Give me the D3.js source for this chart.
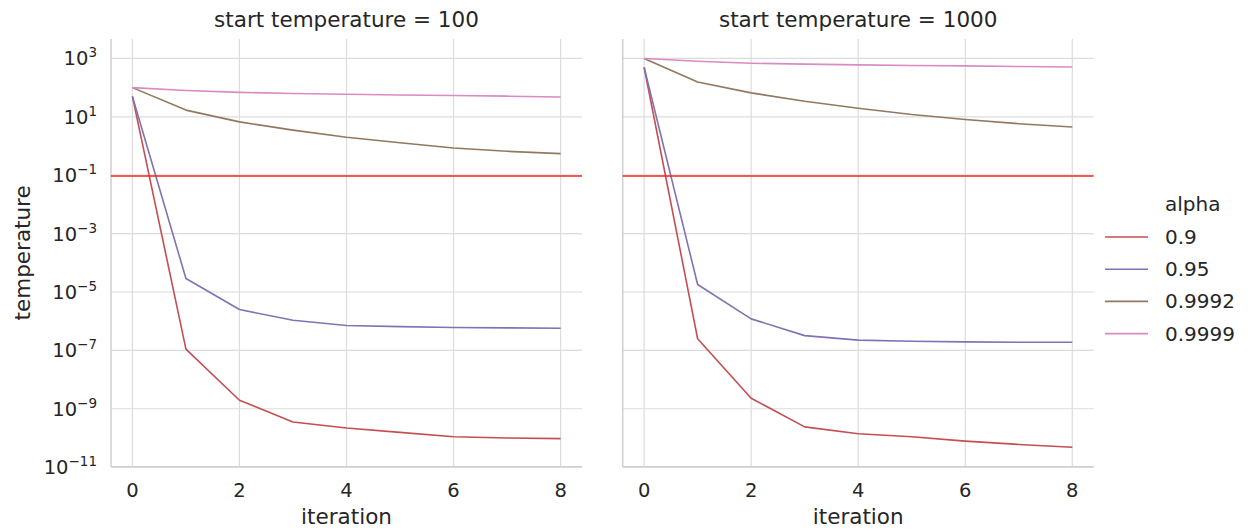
<!DOCTYPE html>
<html><head><meta charset="utf-8">
<script src="https://cdn.jsdelivr.net/npm/d3@7"></script>
<style>
html,body{margin:0;padding:0;background:#fff;}
svg text{font-family:"DejaVu Sans",sans-serif;fill:#262626;}
</style></head>
<body>
<svg id="chart" width="1251" height="531"></svg>
<script>
const iterations = [0,1,2,3,4,5,6,7,8];
const alphas = ["0.9","0.95","0.9992","0.9999"];
const startTemps = [100, 1000];
const colors = ["#c44e52","#8172b3","#937860","#da8bc3"];
const xTicks = [0,2,4,6,8];
const yTickExps = [3,1,-1,-3,-5,-7,-9,-11];
const threshold = 0.1;

// start temperature = 100
const t100_a09    = [50, 1.1e-7, 1.96e-9, 3.5e-10, 2.2e-10, 1.55e-10, 1.1e-10, 1.0e-10, 9.5e-11];
const t100_a095   = [50, 2.9e-5, 2.5e-6, 1.07e-6, 7.1e-7, 6.5e-7, 6.1e-7, 5.9e-7, 5.7e-7];
const t100_a9992  = [100, 17, 6.7, 3.5, 2.0, 1.3, 0.86, 0.66, 0.55];
const t100_a9999  = [100, 80, 69, 63, 59, 56, 54, 51, 48];
// start temperature = 1000
const t1000_a09   = [500, 2.5e-7, 2.3e-9, 2.4e-10, 1.4e-10, 1.1e-10, 7.8e-11, 6e-11, 4.8e-11];
const t1000_a095  = [500, 1.8e-5, 1.2e-6, 3.2e-7, 2.25e-7, 2.05e-7, 1.95e-7, 1.9e-7, 1.9e-7];
const t1000_a9992 = [1000, 157, 66, 34, 19.6, 12, 8.1, 5.8, 4.5];
const t1000_a9999 = [1000, 800, 685, 640, 600, 575, 556, 530, 512];

const panels = [
  {start: startTemps[0], series: [t100_a09, t100_a095, t100_a9992, t100_a9999]},
  {start: startTemps[1], series: [t1000_a09, t1000_a095, t1000_a9992, t1000_a9999]}
];

const svg = d3.select("#chart");
const panelX = [111, 622.7];
const pw = 471, plotTop = 39, plotBottom = 466.7;

// shared log y with matplotlib-like 5% margins in log space
const all = panels.flatMap(p => p.series.flat());
const lmin = Math.log10(d3.min(all)), lmax = Math.log10(d3.max(all));
const m = (lmax - lmin) * 0.05;
const y = d3.scaleLog().domain([Math.pow(10, lmin - m), Math.pow(10, lmax + m)]).range([plotBottom, plotTop]);

panels.forEach((p, pi) => {
  const x0 = panelX[pi];
  const x = d3.scaleLinear().domain([-0.4, 8.4]).range([x0, x0 + pw]);
  const g = svg.append("g");
  // grid
  g.selectAll(".vg").data(xTicks).join("line")
    .attr("x1", d => x(d)).attr("x2", d => x(d)).attr("y1", plotTop).attr("y2", plotBottom)
    .attr("stroke", "#dcdcdc").attr("stroke-width", 1.2);
  g.selectAll(".hg").data(yTickExps).join("line")
    .attr("x1", x0).attr("x2", x0 + pw).attr("y1", d => y(Math.pow(10, d))).attr("y2", d => y(Math.pow(10, d)))
    .attr("stroke", "#dcdcdc").attr("stroke-width", 1.2);
  // spines
  g.append("line").attr("x1", x0).attr("x2", x0).attr("y1", plotTop).attr("y2", plotBottom).attr("stroke", "#cfcfcf").attr("stroke-width", 1.5);
  g.append("line").attr("x1", x0).attr("x2", x0 + pw).attr("y1", plotBottom).attr("y2", plotBottom).attr("stroke", "#cfcfcf").attr("stroke-width", 1.5);

  // lines
  const line = d3.line().x((d, i) => x(iterations[i])).y(d => y(d));
  p.series.forEach((s, si) => {
    g.append("path").datum(s).attr("d", line).attr("fill", "none")
      .attr("stroke", colors[si]).attr("stroke-width", 1.6).attr("stroke-linejoin", "round");
  });
  // threshold
  g.append("line").attr("x1", x0).attr("x2", x0 + pw).attr("y1", y(threshold) + 0.7).attr("y2", y(threshold) + 0.7)
    .attr("stroke", "#ff2020").attr("stroke-opacity", 0.75).attr("stroke-width", 2);

  // x tick labels
  g.selectAll(".xt").data(xTicks).join("text")
    .attr("x", d => x(d)).attr("y", 497).attr("text-anchor", "middle")
    .attr("font-size", 19.5).text(d => d);
  g.append("text").attr("x", x0 + pw / 2).attr("y", 524).attr("text-anchor", "middle")
    .attr("font-size", 21.5).text("iteration");
  // title
  g.append("text").attr("x", x0 + pw / 2).attr("y", 27).attr("text-anchor", "middle")
    .attr("font-size", 21.5).text("start temperature = " + p.start);

  if (pi === 0) {
    g.selectAll(".yt").data(yTickExps).join("text")
      .attr("x", 97).attr("y", d => y(Math.pow(10, d)) + 7).attr("text-anchor", "end")
      .attr("font-size", 19.5)
      .each(function(d) {
        const t = d3.select(this);
        t.append("tspan").text("10");
        t.append("tspan").attr("dy", -8).attr("font-size", 13.5).text(String(d).replace("-", "\u2212"));
      });
    g.append("text").attr("transform", `translate(30,${(plotTop + plotBottom) / 2}) rotate(-90)`)
      .attr("text-anchor", "middle").attr("font-size", 21.5).text("temperature");
  }
});

// legend
const lg = svg.append("g");
lg.append("text").attr("x", 1165).attr("y", 211).attr("font-size", 20).text("alpha");
alphas.forEach((a, i) => {
  const yy = 237 + i * 32.2;
  lg.append("line").attr("x1", 1105).attr("x2", 1148).attr("y1", yy).attr("y2", yy)
    .attr("stroke", colors[i]).attr("stroke-width", 1.6);
  lg.append("text").attr("x", 1165).attr("y", yy + 7).attr("font-size", 20).text(a);
});
</script>
</body></html>
